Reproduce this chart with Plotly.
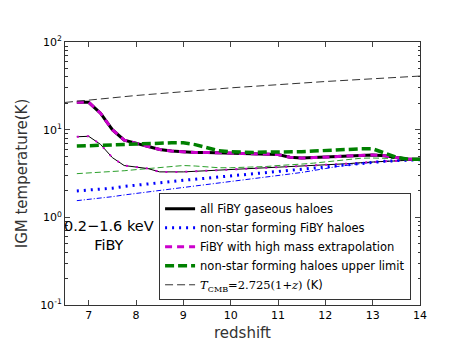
import plotly.graph_objects as go

z = [6.75, 7.0, 7.25, 7.5, 7.75, 8.0, 8.25, 8.5, 8.75, 9.0, 9.25, 9.5, 9.75, 10.0,
     10.25, 10.5, 10.75, 11.0, 11.25, 11.5, 11.75, 12.0, 12.25, 12.5, 12.75, 13.0,
     13.25, 13.5, 13.75, 14.0]

all_fiby = [20.5, 20.5, 15.4, 10.0, 7.6, 7.0, 6.4, 5.95, 5.7, 5.55, 5.5, 5.5, 5.45, 5.4,
            5.4, 5.4, 5.35, 5.2, 4.85, 4.75, 4.8, 4.85, 4.9, 5.0, 5.1, 5.15,
            5.05, 4.8, 4.6, 4.6]
all_fiby_thin = [8.3, 8.4, 6.8, 4.8, 3.9, 3.75, 3.6, 3.3, 3.28, 3.3, 3.35, 3.4, 3.45, 3.5,
                 3.55, 3.65, 3.7, 3.75, 3.8, 3.85, 3.9, 3.95, 4.0, 4.1, 4.2, 4.3,
                 4.35, 4.4, 4.5, 4.55]
upper = [6.5, 6.55, 6.6, 6.65, 6.7, 6.8, 6.9, 7.0, 7.1, 7.1, 6.75, 6.2, 5.75, 5.6,
         5.5, 5.5, 5.55, 5.55, 5.6, 5.6, 5.7, 5.8, 5.85, 5.95, 6.05, 6.05,
         5.4, 4.85, 4.6, 4.6]
upper_thin = [3.15, 3.2, 3.25, 3.3, 3.4, 3.5, 3.6, 3.7, 3.8, 3.9, 3.85, 3.75, 3.68, 3.68,
              3.7, 3.75, 3.8, 3.9, 3.95, 4.05, 4.15, 4.3, 4.45, 4.6, 4.72, 4.75,
              4.7, 4.65, 4.6, 4.6]
nonstar = [2.0, 2.05, 2.1, 2.15, 2.25, 2.33, 2.4, 2.48, 2.57, 2.65, 2.72, 2.8, 2.88, 2.95,
           3.03, 3.1, 3.2, 3.3, 3.4, 3.5, 3.62, 3.75, 3.88, 4.0, 4.15, 4.25,
           4.35, 4.43, 4.5, 4.55]
nonstar_thin = [1.55, 1.6, 1.66, 1.72, 1.8, 1.87, 1.94, 2.02, 2.1, 2.18, 2.27, 2.36, 2.45, 2.55,
                2.65, 2.75, 2.87, 3.0, 3.12, 3.25, 3.45, 3.6, 3.8, 3.95, 4.15, 4.25,
                4.35, 4.45, 4.5, 4.55]

z_cmb = [6.5, 8.0, 10.0, 12.0, 14.0]
t_cmb = [20.44, 24.53, 29.98, 35.43, 40.88]

fig = go.Figure()

# thin (no legend) lines
fig.add_trace(go.Scatter(x=z, y=upper_thin, mode="lines", showlegend=False,
                         line=dict(color="#2ca02c", width=1, dash="6px,3px")))
fig.add_trace(go.Scatter(x=z, y=nonstar_thin, mode="lines", showlegend=False,
                         line=dict(color="blue", width=1, dash="5px,2px,1px,2px")))
fig.add_trace(go.Scatter(x=z, y=all_fiby_thin, mode="lines", showlegend=False,
                         line=dict(color="black", width=1)))
fig.add_trace(go.Scatter(x=z, y=all_fiby_thin, mode="lines", showlegend=False,
                         line=dict(color="#cc00cc", width=2, dash="2px,8px")))

# thick lines
fig.add_trace(go.Scatter(x=z, y=all_fiby, mode="lines", name="all FiBY gaseous haloes",
                         line=dict(color="black", width=3)))
fig.add_trace(go.Scatter(x=z, y=nonstar, mode="lines", name="non-star forming FiBY haloes",
                         line=dict(color="blue", width=3, dash="2px,5px")))
fig.add_trace(go.Scatter(x=z, y=all_fiby, mode="lines", name="FiBY with high mass extrapolation",
                         line=dict(color="#cc00cc", width=3, dash="7px,5px")))
fig.add_trace(go.Scatter(x=z, y=upper, mode="lines", name="non-star forming haloes upper limit",
                         line=dict(color="green", width=3.5, dash="9px,4px")))
fig.add_trace(go.Scatter(x=z_cmb, y=t_cmb, mode="lines",
                         name="<span style='font-family:DejaVu Serif'><i>T</i><sub>CMB</sub>=2.725(1+<i>z</i>)</span> (K)",
                         line=dict(color="#333333", width=1, dash="8px,4px")))

minor_y = [m * 10 ** k for k in (-1, 0, 1) for m in range(2, 10)]

fig.update_layout(
    width=457, height=343,
    margin=dict(l=57, r=45, t=34, b=35),
    paper_bgcolor="white", plot_bgcolor="white",
    font=dict(family="DejaVu Sans", size=11, color="black"),
    legend=dict(x=0.265, y=0.018, xanchor="left", yanchor="bottom",
                bordercolor="#333333", borderwidth=1, bgcolor="white",
                font=dict(size=11.5), tracegroupgap=0, itemwidth=30),
    annotations=[dict(x=0.124, y=0.263, xref="paper", yref="paper",
                      xanchor="center", yanchor="middle",
                      text="0.2−1.6 keV<br>FiBY", showarrow=False,
                      font=dict(size=14.5, family="DejaVu Sans"), align="center")],
)
fig.update_xaxes(range=[6.5, 14], tickvals=[7, 8, 9, 10, 11, 12, 13, 14],
                 ticks="inside", ticklen=5, mirror="ticks", showline=True,
                 linecolor="#333333", linewidth=1, showgrid=False, zeroline=False,
                 title=dict(text="redshift", font=dict(size=15, color="#333333"), standoff=6),
                 tickfont=dict(size=11))
fig.update_yaxes(type="log", range=[-1, 2], tickvals=[0.1, 1, 10, 100],
                 ticktext=["10<sup>-1</sup>", "10<sup>0</sup>", "10<sup>1</sup>", "10<sup>2</sup>"],
                 ticks="inside", ticklen=5, mirror="ticks", showline=True,
                 linecolor="#333333", linewidth=1, showgrid=False, zeroline=False,
                 minor=dict(tickvals=minor_y, ticks="inside", ticklen=2.5, showgrid=False,
                            tickcolor="#333333"),
                 title=dict(text="IGM temperature(K)", font=dict(size=15, color="#333333"), standoff=8),
                 tickfont=dict(size=11))

fig.write_html("out.html")
